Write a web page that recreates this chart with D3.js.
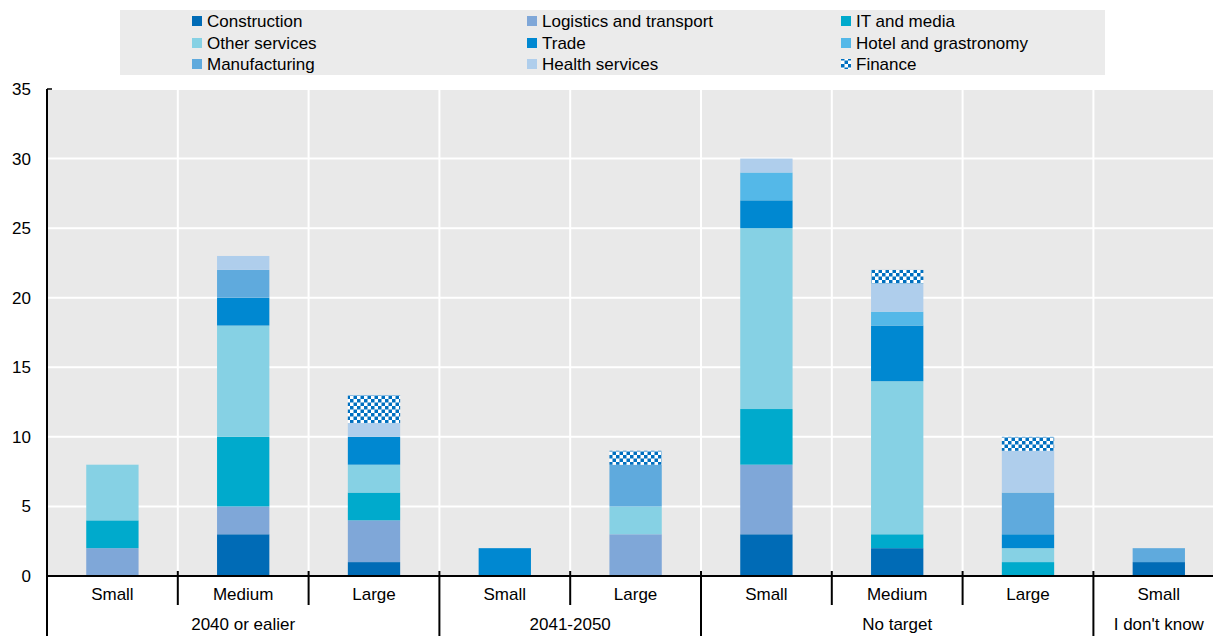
<!DOCTYPE html>
<html>
<head>
<meta charset="utf-8">
<script src="https://cdn.jsdelivr.net/npm/d3@7"></script>
<style>
  body { margin: 0; background: #fff; }
  svg { display: block; font-family: "Liberation Sans", Arial, sans-serif; }
</style>
</head>
<body>
<div id="chart"></div>
<script>
// bars, left to right
const sizes = ['Small', 'Medium', 'Large', 'Small', 'Large', 'Small', 'Medium', 'Large', 'Small']
const groups = ['2040 or ealier', '2040 or ealier', '2040 or ealier', '2041-2050', '2041-2050',
  'No target', 'No target', 'No target', "I don't know"]

// sectors, stacked bottom to top
const sectors = ['Construction', 'Logistics and transport', 'IT and media', 'Other services', 'Trade',
  'Hotel and grastronomy', 'Manufacturing', 'Health services', 'Finance']
const construction = [0, 3, 1, 0, 0, 3, 2, 0, 1]
const logistics = [2, 2, 3, 0, 3, 5, 0, 0, 0]
const itMedia = [2, 5, 2, 0, 0, 4, 1, 1, 0]
const otherServices = [4, 8, 2, 0, 2, 13, 11, 1, 0]
const trade = [0, 2, 2, 2, 0, 2, 4, 1, 0]
const hotel = [0, 0, 0, 0, 0, 2, 1, 0, 0]
const manufacturing = [0, 2, 0, 0, 3, 0, 0, 3, 1]
const health = [0, 1, 1, 0, 0, 1, 2, 3, 0]
const finance = [0, 0, 2, 0, 1, 0, 1, 1, 0]
const yTicks = [0, 5, 10, 15, 20, 25, 30, 35]

const seriesValues = [construction, logistics, itMedia, otherServices, trade, hotel, manufacturing, health, finance]
const colors = ['#006bb6', '#7fa7d8', '#00aacc', '#86d1e4', '#0088d1', '#54b8e8', '#5faadd', '#afceec', 'url(#checker)']

const rows = sizes.map((s, i) => {
  const r = { id: i, size: s, group: groups[i] }
  sectors.forEach((k, j) => { r[k] = seriesValues[j][i] })
  return r
})

const W = 1213, H = 636
const plotLeft = 47, plotTop = 89, plotBottom = 576
const band = 130.8

const svg = d3.select('#chart').append('svg')
  .attr('width', W)
  .attr('height', H)

const defs = svg.append('defs')
const pat = defs.append('pattern')
  .attr('id', 'checker')
  .attr('patternUnits', 'userSpaceOnUse')
  .attr('width', 7).attr('height', 7)
pat.append('rect').attr('width', 7).attr('height', 7).attr('fill', '#fff')
pat.append('rect').attr('width', 3.5).attr('height', 3.5).attr('fill', '#0070c0')
pat.append('rect').attr('x', 3.5).attr('y', 3.5).attr('width', 3.5).attr('height', 3.5).attr('fill', '#0070c0')

const x = d3.scaleBand()
  .domain(rows.map(d => d.id))
  .range([plotLeft, plotLeft + band * rows.length])
const y = d3.scaleLinear()
  .domain([0, 35])
  .range([plotBottom, plotTop])

// plot background
svg.append('rect')
  .attr('x', plotLeft).attr('y', plotTop)
  .attr('width', W - plotLeft).attr('height', plotBottom - plotTop)
  .attr('fill', '#e9e9e9')

// white grid
svg.append('g').selectAll('line')
  .data(yTicks.slice(1))
  .enter().append('line')
  .attr('x1', plotLeft).attr('x2', W)
  .attr('y1', d => y(d)).attr('y2', d => y(d))
  .attr('stroke', '#fff').attr('stroke-width', 2)
svg.append('g').selectAll('line')
  .data(rows.slice(1))
  .enter().append('line')
  .attr('x1', d => x(d.id)).attr('x2', d => x(d.id))
  .attr('y1', plotTop).attr('y2', plotBottom)
  .attr('stroke', '#fff').attr('stroke-width', 2)

// stacked bars
const stacked = d3.stack().keys(sectors)(rows)
const barW = x.bandwidth() * 0.4

svg.append('g').selectAll('g')
  .data(stacked)
  .enter().append('g')
  .attr('fill', (d, i) => colors[i])
  .selectAll('rect')
  .data(d => d.filter(p => p[1] > p[0]))
  .enter().append('rect')
  .attr('x', d => x(d.data.id) + (x.bandwidth() - barW) / 2)
  .attr('width', barW)
  .attr('y', d => y(d[1]))
  .attr('height', d => y(d[0]) - y(d[1]))

// y axis labels
svg.append('g').selectAll('text')
  .data(yTicks)
  .enter().append('text')
  .attr('x', 31)
  .attr('y', d => y(d) + 6)
  .attr('text-anchor', 'end')
  .attr('font-size', '17px')
  .attr('fill', '#000')
  .text(d => d)

// axis lines
svg.append('line')
  .attr('x1', plotLeft).attr('x2', plotLeft)
  .attr('y1', plotTop).attr('y2', H)
  .attr('stroke', '#000').attr('stroke-width', 2)
svg.append('line')
  .attr('x1', plotLeft).attr('x2', plotLeft + 5)
  .attr('y1', plotTop).attr('y2', plotTop)
  .attr('stroke', '#000').attr('stroke-width', 1.5)
svg.append('line')
  .attr('x1', plotLeft).attr('x2', W)
  .attr('y1', plotBottom).attr('y2', plotBottom)
  .attr('stroke', '#000').attr('stroke-width', 2)

// separators under the axis
svg.append('g').selectAll('line')
  .data(rows.slice(1))
  .enter().append('line')
  .attr('x1', d => x(d.id)).attr('x2', d => x(d.id))
  .attr('y1', plotBottom - 5)
  .attr('y2', d => d.group !== groups[d.id - 1] ? H : 605)
  .attr('stroke', '#000').attr('stroke-width', 2)

// size labels
svg.append('g').selectAll('text')
  .data(rows)
  .enter().append('text')
  .attr('x', d => x(d.id) + x.bandwidth() / 2)
  .attr('y', 600)
  .attr('text-anchor', 'middle')
  .attr('font-size', '17px')
  .attr('fill', '#000')
  .text(d => d.size)

// group labels
const groupNames = Array.from(new Set(groups))
svg.append('g').selectAll('text')
  .data(groupNames)
  .enter().append('text')
  .attr('x', g => {
    const ids = rows.filter(r => r.group === g).map(r => r.id)
    return (x(ids[0]) + x(ids[ids.length - 1]) + x.bandwidth()) / 2
  })
  .attr('y', 630)
  .attr('text-anchor', 'middle')
  .attr('font-size', '17px')
  .attr('fill', '#000')
  .text(g => g)

// legend
const legend = svg.append('g')
legend.append('rect')
  .attr('x', 120).attr('y', 10)
  .attr('width', 985).attr('height', 65)
  .attr('fill', '#ebebeb')
const colX = [192, 527, 841]
const rowY = [21, 43, 64]
const items = legend.selectAll('g.item')
  .data(sectors)
  .enter().append('g')
  .attr('class', 'item')
  .attr('transform', (d, i) => `translate(${colX[i % 3]},${rowY[Math.floor(i / 3)]})`)
items.append('rect')
  .attr('x', 0).attr('y', -5)
  .attr('width', 10).attr('height', 10)
  .attr('fill', (d, i) => colors[i])
items.append('text')
  .attr('x', 15).attr('y', 6)
  .attr('font-size', '17px')
  .attr('fill', '#000')
  .text(d => d)
</script>
</body>
</html>
